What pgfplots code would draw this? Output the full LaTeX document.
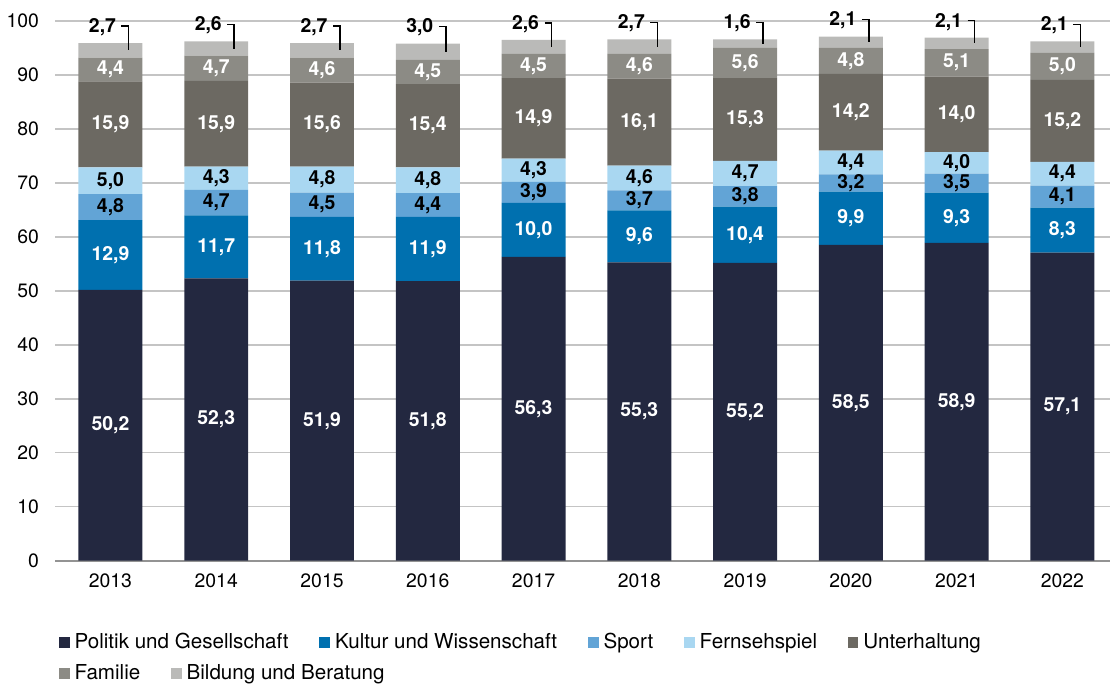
\documentclass[border=0pt]{standalone}
\usepackage{pgfplots}
\usepackage{pgfplotstable}
\pgfplotsset{compat=1.18}
\usepackage{fontspec}
\setmainfont{TeX Gyre Heros}
\definecolor{cPol}{HTML}{232840}
\definecolor{cKul}{HTML}{0070AF}
\definecolor{cSpo}{HTML}{62A4D6}
\definecolor{cFer}{HTML}{A9D7F1}
\definecolor{cUnt}{HTML}{6C6962}
\definecolor{cFam}{HTML}{8C8B85}
\definecolor{cBil}{HTML}{BABAB8}
\definecolor{cGrid}{HTML}{C4C4C4}
\newcommand{\chartfont}{\fontsize{9.7}{11.6}\selectfont}
\newcommand{\legfont}{\fontsize{10.3}{12}\selectfont}
\pgfplotstableread{
x  a    b    c   d   e    f   g
0 50.2 12.9 4.8 5.0 15.9 4.4 2.7
1 52.3 11.7 4.7 4.3 15.9 4.7 2.6
2 51.9 11.8 4.5 4.8 15.6 4.6 2.7
3 51.8 11.9 4.4 4.8 15.4 4.5 3.0
4 56.3 10.0 3.9 4.3 14.9 4.5 2.6
5 55.3 9.6  3.7 4.6 16.1 4.6 2.7
6 55.2 10.4 3.8 4.7 15.3 5.6 1.6
7 58.5 9.9  3.2 4.4 14.2 4.8 2.1
8 58.9 9.3  3.5 4.0 14.0 5.1 2.1
9 57.1 8.3  4.1 4.4 15.2 5.0 2.1
}\data
\pgfplotstablecreatecol[create col/expr={\thisrow{a}/2}]{ma}\data
\pgfplotstablecreatecol[create col/expr={\thisrow{a}+\thisrow{b}/2}]{mb}\data
\pgfplotstablecreatecol[create col/expr={\thisrow{a}+\thisrow{b}+\thisrow{c}/2}]{mc}\data
\pgfplotstablecreatecol[create col/expr={\thisrow{a}+\thisrow{b}+\thisrow{c}+\thisrow{d}/2}]{md}\data
\pgfplotstablecreatecol[create col/expr={\thisrow{a}+\thisrow{b}+\thisrow{c}+\thisrow{d}+\thisrow{e}/2}]{me}\data
\pgfplotstablecreatecol[create col/expr={\thisrow{a}+\thisrow{b}+\thisrow{c}+\thisrow{d}+\thisrow{e}+\thisrow{f}/2}]{mf}\data
\pgfplotstablecreatecol[create col/expr={\thisrow{a}+\thisrow{b}+\thisrow{c}+\thisrow{d}+\thisrow{e}+\thisrow{f}+\thisrow{g}}]{tot}\data
\pgfplotstablecreatecol[create col/expr={\thisrow{tot}-\thisrow{g}/2}]{mg}\data
\pgfplotsset{
  base/.style={scale only axis, width=527.5pt, height=270pt,
    xmin=-0.52, xmax=9.45, ymin=0, ymax=100, clip=false},
  sq/.style={legend image code/.code={\path[##1] (0pt,-2.7pt) rectangle (5.4pt,2.7pt);}},
  lab/.style={draw=none, nodes near coords, point meta=explicit,
    every node near coord/.append style={anchor=center, text=#1, font=\chartfont\bfseries}},
}
\begin{document}
\begin{tikzpicture}
\begin{axis}[base, ybar stacked, bar width=32pt,
  axis x line*=bottom, axis y line*=left,
  y axis line style={draw=none}, x axis line style={draw=gray!85, line width=0.8pt, -},
  major tick length=0pt, tick style={draw=none},
  ymajorgrids, grid style={cGrid, line width=0.7pt},
  xtick={0,...,9}, xticklabels={2013,2014,2015,2016,2017,2018,2019,2020,2021,2022},
  ytick={0,10,...,100},
  /pgf/number format/assume math mode=true,
  tick label style={font=\chartfont},
  yticklabel style={xshift=-4.7pt},
  xticklabel style={yshift=-3.2pt},
  legend columns=-1,
  legend style={draw=none, fill=none, at={(axis description cs:0,0)}, anchor=west,
    xshift=1.5pt, yshift=-41pt, inner sep=0pt, font=\legfont,
    nodes={inner xsep=2.5pt, inner ysep=1pt},
    /tikz/every even column/.append style={column sep=12.8pt}},
]
\addplot[fill=cPol, draw=none, sq] table[x=x,y=a]{\data};
\addplot[fill=cKul, draw=none, sq] table[x=x,y=b]{\data};
\addplot[fill=cSpo, draw=none, sq] table[x=x,y=c]{\data};
\addplot[fill=cFer, draw=none, sq] table[x=x,y=d]{\data};
\addplot[fill=cUnt, draw=none, sq] table[x=x,y=e]{\data};
\addplot[fill=cFam, draw=none, sq] table[x=x,y=f]{\data};
\addplot[fill=cBil, draw=none, sq] table[x=x,y=g]{\data};
\legend{Politik und Gesellschaft, Kultur und Wissenschaft, Sport, Fernsehspiel, Unterhaltung}
\end{axis}
\begin{axis}[base, hide axis,
  /pgf/number format/.cd, use comma, fixed, fixed zerofill, precision=1, assume math mode=true, /pgfplots/.cd,
  legend columns=-1,
  legend style={draw=none, fill=none, at={(axis description cs:0,0)}, anchor=west,
    xshift=1.5pt, yshift=-56.5pt, inner sep=0pt, font=\legfont,
    nodes={inner xsep=2.5pt, inner ysep=1pt},
    /tikz/every even column/.append style={column sep=12.8pt}},
]
\addlegendimage{sq, fill=cFam, draw=none}
\addlegendentry{Familie}
\addlegendimage{sq, fill=cBil, draw=none}
\addlegendentry{Bildung und Beratung}
\addplot[lab=white, forget plot] table[x=x, y=ma, meta=a]{\data};
\addplot[lab=white, forget plot] table[x=x, y=mb, meta=b]{\data};
\addplot[lab=black, forget plot] table[x=x, y=mc, meta=c]{\data};
\addplot[lab=black, forget plot] table[x=x, y=md, meta=d]{\data};
\addplot[lab=white, forget plot] table[x=x, y=me, meta=e]{\data};
\addplot[lab=white, forget plot] table[x=x, y=mf, meta=f]{\data};
\addplot[lab=black, forget plot, every node near coord/.append style={xshift=-4pt, yshift=8pt}] table[x=x, y=tot, meta=g]{\data};
\pgfplotsinvokeforeach{0,1,2,3,4,5,6,7,8,9}{
  \pgfplotstablegetelem{#1}{tot}\of\data \let\tot\pgfplotsretval
  \pgfplotstablegetelem{#1}{mg}\of\data \let\mg\pgfplotsretval
  \edef\temp{\noexpand\draw[black, line width=0.75pt] ([xshift=5.5pt, yshift=8.5pt]axis cs:#1,\tot) -- ([xshift=9pt, yshift=8.5pt]axis cs:#1,\tot) -- ([xshift=9pt]axis cs:#1,\mg);}
  \temp
}
\path (rel axis cs:0,0) ++(-27.5pt,-60.5pt) rectangle ++(556pt,341pt);
\end{axis}
\end{tikzpicture}
\end{document}
